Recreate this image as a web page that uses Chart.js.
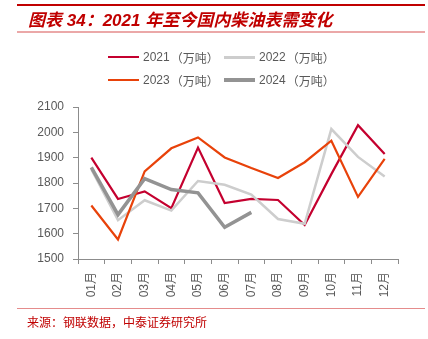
<!DOCTYPE html>
<html>
<head>
<meta charset="utf-8">
<script src="https://cdn.jsdelivr.net/npm/chart.js@4/dist/chart.umd.min.js"></script>
<style>
    html, body { margin: 0; padding: 0; background: #fff; }
    #wrap { position: relative; width: 428px; height: 339px; overflow: hidden; font-family: "Liberation Sans", "Noto Sans CJK SC", sans-serif; }
    #chart { position: absolute; left: 0; top: 0; }
    .rule { position: absolute; left: 17px; width: 408px; }
    #title { position: absolute; left: 28px; top: 10px; font-size: 17px; line-height: 22px; font-weight: bold; font-style: italic; color: #C00000; white-space: nowrap; }
    #legend { position: absolute; left: 0; top: 0; width: 428px; height: 100px; }
    .leg-item { position: absolute; height: 16px; display: flex; align-items: center; font-size: 12px; color: #595959; white-space: nowrap; }
    .leg-line { width: 31px; margin-right: 4px; }
    .cjk { font-family: "Noto Sans CJK SC", sans-serif; margin-left: 1px; }
    #source { position: absolute; left: 27px; top: 314px; font-size: 12px; line-height: 16px; color: #C00000; font-family: "Noto Sans CJK SC", sans-serif; white-space: nowrap; }
</style>
</head>
<body>
<div id="wrap">
    <canvas id="chart" width="428" height="339"></canvas>
    <div class="rule" style="top:4px;height:2px;background:#C00000;"></div>
    <div id="title">图表 34：2021 年至今国内柴油表需变化</div>
    <div class="rule" style="top:31px;height:2px;background:#EBA8A8;"></div>
    <div id="legend"></div>
    <div class="rule" style="top:308px;height:1px;background:#E58C8C;"></div>
    <div id="source">来源：钢联数据，中泰证券研究所</div>
</div>
<script>
const months = ['01月', '02月', '03月', '04月', '05月', '06月', '07月', '08月', '09月', '10月', '11月', '12月'];
const seriesYears = ['2021', '2022', '2023', '2024'];
const seriesUnit = '（万吨）';
const values2021 = [1900, 1737, 1767, 1701, 1940, 1721, 1737, 1733, 1634, 1835, 2028, 1914];
const values2022 = [1855, 1653, 1732, 1691, 1808, 1793, 1754, 1658, 1639, 2013, 1903, 1826];
const values2023 = [1711, 1577, 1846, 1937, 1980, 1901, 1859, 1820, 1882, 1967, 1745, 1895];
const values2024 = [1862, 1675, 1817, 1774, 1761, 1625, 1684];
const yTicks = [1500, 1600, 1700, 1800, 1900, 2000, 2100];

const colors = ['#C4002F', '#CDCDCD', '#E8420A', '#939393'];
const widths = [2.2, 2.5, 2.2, 3.5];
const allValues = [values2021, values2022, values2023, values2024];

// html legend, 2 x 2
const legendPos = [[108, 49], [224, 49], [108, 72], [224, 72]];
const legendEl = document.getElementById('legend');
seriesYears.forEach((year, i) => {
    const item = document.createElement('div');
    item.className = 'leg-item';
    item.style.left = legendPos[i][0] + 'px';
    item.style.top = legendPos[i][1] + 'px';
    item.innerHTML = `<span class="leg-line" style="height:${Math.round(widths[i])}px;background:${colors[i]}"></span><span>${year}</span><span class="cjk">${seriesUnit}</span>`;
    legendEl.appendChild(item);
});

const axisColor = '#8C8C8C';
const tickFont = { family: '"Liberation Sans", "Noto Sans CJK SC", sans-serif', size: 12 };

new Chart(document.getElementById('chart').getContext('2d'), {
    type: 'line',
    data: {
        labels: months,
        datasets: allValues.map((vals, i) => ({
            label: seriesYears[i] + seriesUnit,
            data: vals,
            borderColor: colors[i],
            backgroundColor: colors[i],
            borderWidth: widths[i],
            pointRadius: 0,
            tension: 0,
            fill: false,
            order: 4 - i
        }))
    },
    options: {
        responsive: false,
        animation: false,
        devicePixelRatio: 1,
        layout: { padding: { left: 0, right: 30, top: 107, bottom: 0 } },
        plugins: { legend: { display: false }, tooltip: { enabled: false } },
        scales: {
            x: {
                type: 'category',
                offset: true,
                grid: { display: true, drawOnChartArea: false, offset: true, tickLength: 5, color: axisColor },
                border: { color: axisColor, width: 1 },
                ticks: { color: '#595959', font: tickFont, minRotation: 90, maxRotation: 90, padding: 8, autoSkip: false },
                afterFit: (scale) => { scale.height = 80; }
            },
            y: {
                min: yTicks[0],
                max: yTicks[yTicks.length - 1],
                grid: { display: true, drawOnChartArea: false, tickLength: 5, color: axisColor },
                border: { color: axisColor, width: 1 },
                ticks: { color: '#595959', font: tickFont, stepSize: 100, padding: 9, callback: (v) => String(v) },
                afterBuildTicks: (scale) => { scale.ticks = yTicks.map(v => ({ value: v })); },
                afterFit: (scale) => { scale.width = 78; }
            }
        }
    }
});
</script>
</body>
</html>
